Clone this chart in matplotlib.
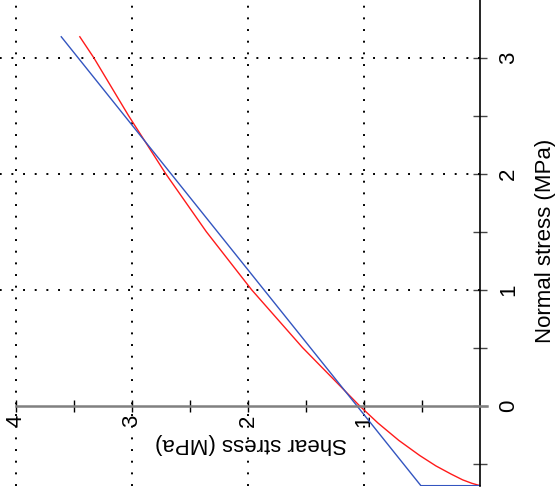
import numpy as np
import matplotlib
matplotlib.use("Agg")
import matplotlib.pyplot as plt

plt.rcParams['font.family'] = ['Liberation Sans', 'DejaVu Sans']

# Mohr-Coulomb envelope with tension cut-off (blue)
mc_normal = [-0.69, -0.69, 3.18]
mc_shear = [0.0, 0.51, 3.61]

# Hoek-Brown envelope (red)
hb_normal = [-0.69, -0.67, -0.64, -0.59, -0.52, -0.43, -0.30, -0.15, 0.0,
             0.5, 1.0, 1.5, 2.0, 2.5, 3.0, 3.18]
hb_shear = [0.0, 0.07, 0.15, 0.25, 0.38, 0.52, 0.70, 0.88, 1.04,
            1.53, 1.97, 2.36, 2.71, 3.03, 3.33, 3.45]

shear_ticks = [1, 2, 3, 4]
shear_minor = [0.5, 1.5, 2.5, 3.5]
normal_ticks = [0, 1, 2, 3]
normal_minor = [-0.5, 0.5, 1.5, 2.5]

fig = plt.figure(figsize=(5.6, 4.96), dpi=100)
ax = fig.add_axes([0, 10 / 496, 487 / 560, 486 / 496])

# plot is rotated: shear runs right-to-left, normal stress upward
ax.set_xlim(4.138, -0.06)
ax.set_ylim(-0.693, 3.497)

dots = (0, (1, 5))
ax.grid(axis='x', which='major', linestyle=dots, linewidth=1.4, color='k')
ax.hlines(normal_ticks[1:], 0, 4.138, linestyles=[dots], linewidth=1.4, color='k')

ax.plot(hb_shear, hb_normal, color='#ff1a1a', linewidth=1.0)
ax.plot(mc_shear, mc_normal, color='#3355c0', linewidth=1.0)

for s in ['left', 'top']:
    ax.spines[s].set_visible(False)
ax.spines['right'].set_position(('data', 0))
ax.spines['right'].set_bounds(-0.693, 3.497)
ax.spines['right'].set_color('k')
ax.spines['right'].set_linewidth(1.2)
ax.spines['bottom'].set_position(('data', 0))
ax.spines['bottom'].set_bounds(-0.06, 4.0)
ax.spines['bottom'].set_color('#808080')
ax.spines['bottom'].set_linewidth(1.8)

ax.yaxis.tick_right()
ax.set_xticks(shear_ticks)
ax.set_xticks(shear_minor, minor=True)
ax.set_yticks(normal_ticks)
ax.set_yticks(normal_minor, minor=True)
ax.set_xticklabels([str(t) for t in shear_ticks], rotation=90, fontsize=16, va='top', ha='center')
ax.set_yticklabels([str(t) for t in normal_ticks], rotation=90, fontsize=16, va='center', ha='left')
ax.tick_params(axis='x', which='both', direction='inout', length=9, width=1, color='k', pad=2)
ax.tick_params(axis='y', which='both', direction='inout', length=10, width=1, color='#444444', pad=8)

fig.text(251 / 560, 1 - 443 / 496, 'Shear stress (MPa)', rotation=180,
         fontsize=16, ha='center', va='center')
fig.text(545 / 560, 1 - 241 / 496, 'Normal stress (MPa)', rotation=90,
         fontsize=16, ha='center', va='center')

fig.savefig('out.png', dpi=100)
